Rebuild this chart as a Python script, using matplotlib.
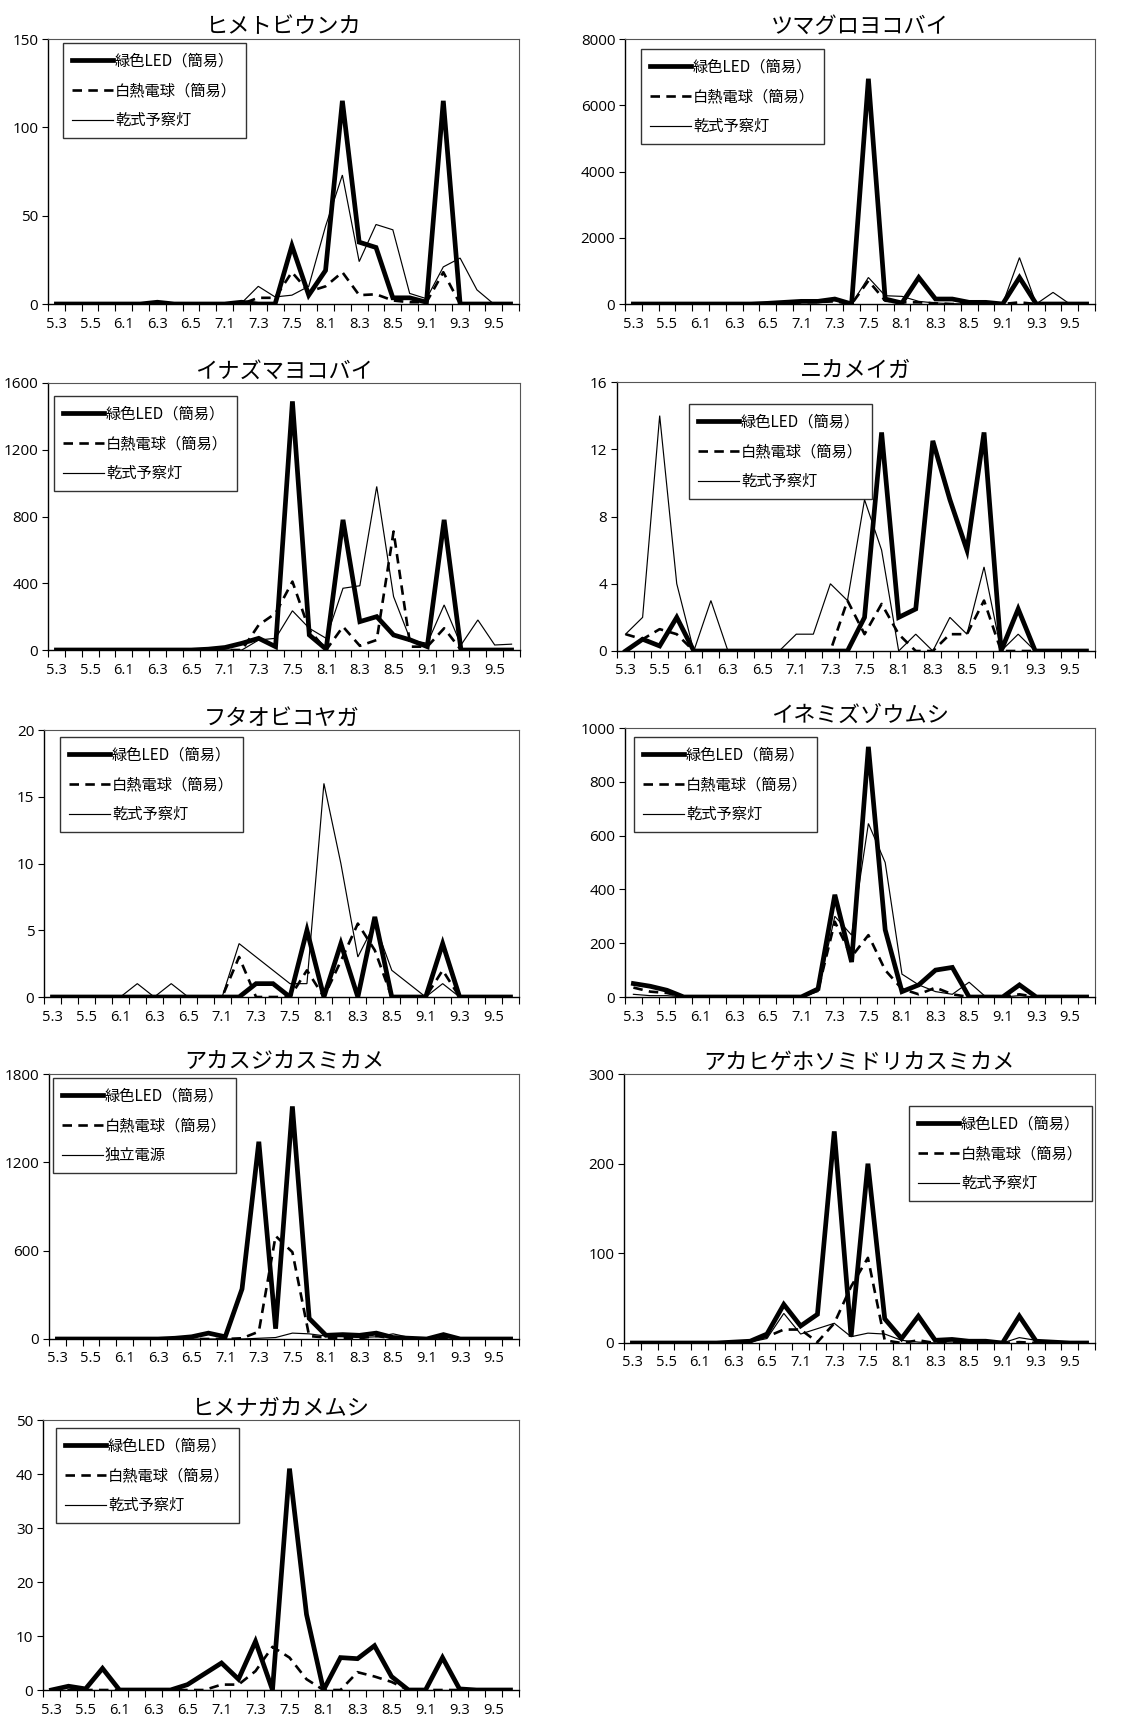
import matplotlib
matplotlib.use("Agg")
import matplotlib.pyplot as plt
import numpy as np

plt.rcParams['font.family'] = ['Noto Sans CJK JP', 'DejaVu Sans']

periods = ["5.3", "5.4", "5.5", "5.6",
           "6.1", "6.2", "6.3", "6.4", "6.5", "6.6",
           "7.1", "7.2", "7.3", "7.4", "7.5", "7.6",
           "8.1", "8.2", "8.3", "8.4", "8.5", "8.6",
           "9.1", "9.2", "9.3", "9.4", "9.5", "9.6"]

label_led = "緑色LED（簡易）"
label_inc = "白熱電球（簡易）"
label_dry = "乾式予察灯"
label_ind = "独立電源"

# --- ヒメトビウンカ ---
himetobi_led = [0, 0, 0, 0, 0, 0, 1, 0, 0, 0, 0, 1, 0, 0, 33, 5, 19, 115, 35, 32, 3.5, 3.5, 1, 115, 0, 0, 0, 0]
himetobi_inc = [0, 0, 0, 0, 0, 0, 0, 0, 0, 0, 0, 0, 3.5, 3.5, 18, 7, 10, 18, 5, 5.5, 2, 1, 1, 18, 0, 0, 0, 0]
himetobi_dry = [0, 0, 0, 0, 0, 0, 0, 0, 0, 0, 0, 0.5, 10, 4, 5, 10, 44, 73, 24, 45, 42, 6, 3, 21, 26, 8, 0, 0]

# --- ツマグロヨコバイ ---
tsumaguro_led = [0, 0, 0, 0, 0, 0, 0, 0, 20, 50, 80, 80, 150, 0, 6800, 150, 30, 800, 150, 150, 50, 50, 0, 800, 0, 0, 0, 0]
tsumaguro_inc = [0, 0, 0, 0, 0, 0, 0, 0, 10, 30, 50, 60, 80, 0, 700, 100, 50, 50, 20, 0, 0, 0, 0, 50, 0, 0, 0, 0]
tsumaguro_dry = [0, 0, 0, 0, 0, 0, 0, 0, 10, 40, 80, 120, 100, 0, 800, 250, 230, 80, 30, 10, 0, 0, 0, 1400, 0, 350, 0, 0]

# --- イナズマヨコバイ ---
inazuma_led = [0, 0, 0, 0, 0, 0, 0, 0, 0, 5, 15, 40, 70, 20, 1490, 90, 5, 780, 170, 200, 90, 60, 20, 780, 0, 0, 0, 0]
inazuma_inc = [0, 0, 0, 0, 0, 0, 0, 0, 0, 0, 0, 0, 150, 220, 410, 120, 0, 140, 25, 60, 710, 20, 20, 130, 0, 0, 0, 0]
inazuma_dry = [0, 0, 0, 0, 0, 0, 0, 0, 0, 0, 0, 0, 60, 70, 235, 130, 70, 370, 385, 980, 320, 60, 40, 270, 30, 180, 30, 35]

# --- ニカメイガ ---
nikameiga_led = [0, 0.7, 0.3, 2, 0, 0, 0, 0, 0, 0, 0, 0, 0, 0, 2, 13, 2, 2.5, 12.5, 9, 6, 13, 0, 2.5, 0, 0, 0, 0]
nikameiga_inc = [1, 0.7, 1.3, 1, 0, 0, 0, 0, 0, 0, 0, 0, 0, 3, 1, 2.8, 1, 0, 0, 1, 1, 3, 0, 0, 0, 0, 0, 0]
nikameiga_dry = [1, 2, 14, 4, 0, 3, 0, 0, 0, 0, 1, 1, 4, 3, 9, 6, 0, 1, 0, 2, 1, 5, 0, 1, 0, 0, 0, 0]

# --- フタオビコヤガ ---
futaobi_led = [0, 0, 0, 0, 0, 0, 0, 0, 0, 0, 0, 0, 1, 1, 0, 5, 0, 4, 0, 6, 0, 0, 0, 4, 0, 0, 0, 0]
futaobi_inc = [0, 0, 0, 0, 0, 0, 0, 0, 0, 0, 0, 3, 0, 0, 0, 2, 0, 2.7, 5.5, 3.5, 0, 0, 0, 2, 0, 0, 0, 0]
futaobi_dry = [0, 0, 0, 0, 0, 1, 0, 1, 0, 0, 0, 4, 3, 2, 1, 1, 16, 10, 3, 5.5, 2, 1, 0, 1, 0, 0, 0, 0]

# --- イネミズゾウムシ ---
inemizu_led = [50, 40, 25, 0, 0, 0, 0, 0, 0, 0, 0, 30, 380, 130, 930, 250, 20, 45, 100, 110, 0, 0, 0, 45, 0, 0, 0, 0]
inemizu_inc = [35, 20, 15, 0, 0, 0, 0, 0, 0, 0, 0, 25, 280, 150, 230, 100, 30, 10, 35, 10, 0, 0, 0, 10, 0, 0, 0, 0]
inemizu_dry = [10, 5, 5, 0, 0, 0, 0, 0, 0, 0, 0, 20, 300, 230, 645, 500, 85, 45, 20, 10, 55, 0, 0, 5, 0, 0, 0, 0]

# --- アカスジカスミカメ ---
akasuji_led = [0, 0, 0, 0, 0, 0, 0, 5, 15, 40, 15, 340, 1340, 70, 1580, 140, 25, 30, 25, 40, 10, 5, 0, 30, 0, 0, 0, 0]
akasuji_inc = [0, 0, 0, 0, 0, 0, 0, 0, 0, 0, 0, 5, 50, 700, 590, 20, 10, 5, 5, 20, 5, 0, 0, 5, 0, 0, 0, 0]
akasuji_ind = [0, 0, 0, 0, 0, 0, 0, 0, 0, 0, 0, 0, 5, 10, 40, 35, 20, 15, 10, 15, 35, 10, 5, 0, 0, 0, 0, 0]

# --- アカヒゲホソミドリカスミカメ ---
akahige_led = [0, 0, 0, 0, 0, 0, 1, 2, 10, 43, 19, 32, 236, 7, 200, 27, 5, 30, 3, 4, 2, 2, 0, 30, 2, 1, 0, 0]
akahige_inc = [0, 0, 0, 0, 0, 0, 1, 2, 7, 15, 15, 1, 22, 63, 95, 3, 0, 3, 0, 0, 0, 0, 0, 1, 0, 0, 0, 0]
akahige_dry = [0, 0, 0, 0, 0, 0, 0, 1, 5, 33, 10, 16, 22, 7, 11, 10, 3, 1, 0, 0, 0, 0, 0, 6, 3, 0, 0, 0]

# --- ヒメナガカメムシ ---
himenaga_led = [0, 0.7, 0.2, 4, 0, 0, 0, 0, 1, 3, 5, 2, 9, 0, 41, 14, 0, 6, 5.8, 8.2, 2.5, 0, 0, 6, 0.2, 0, 0, 0]
himenaga_inc = [0, 0, 0, 0, 0, 0, 0, 0, 0, 0, 1, 1, 3.5, 8, 6, 2, 0, 0, 3.3, 2.5, 1.5, 0, 0, 0, 0, 0, 0, 0]
himenaga_dry = [0] * 28

panels = [
    dict(title="ヒメトビウンカ", series=[himetobi_led, himetobi_inc, himetobi_dry],
         labels=[label_led, label_inc, label_dry], ymax=150, yticks=[0, 50, 100, 150],
         box=(48, 519, 39, 304), leg=(63, 43)),
    dict(title="ツマグロヨコバイ", series=[tsumaguro_led, tsumaguro_inc, tsumaguro_dry],
         labels=[label_led, label_inc, label_dry], ymax=8000, yticks=[0, 2000, 4000, 6000, 8000],
         box=(625, 1095, 39, 304), leg=(641, 49)),
    dict(title="イナズマヨコバイ", series=[inazuma_led, inazuma_inc, inazuma_dry],
         labels=[label_led, label_inc, label_dry], ymax=1600, yticks=[0, 400, 800, 1200, 1600],
         box=(48, 520, 383, 650), leg=(54, 396)),
    dict(title="ニカメイガ", series=[nikameiga_led, nikameiga_inc, nikameiga_dry],
         labels=[label_led, label_inc, label_dry], ymax=16, yticks=[0, 4, 8, 12, 16],
         box=(617, 1095, 382, 651), leg=(689, 404)),
    dict(title="フタオビコヤガ", series=[futaobi_led, futaobi_inc, futaobi_dry],
         labels=[label_led, label_inc, label_dry], ymax=20, yticks=[0, 5, 10, 15, 20],
         box=(44, 519, 730, 997), leg=(60, 737)),
    dict(title="イネミズゾウムシ", series=[inemizu_led, inemizu_inc, inemizu_dry],
         labels=[label_led, label_inc, label_dry], ymax=1000, yticks=[0, 200, 400, 600, 800, 1000],
         box=(625, 1095, 728, 997), leg=(634, 737)),
    dict(title="アカスジカスミカメ", series=[akasuji_led, akasuji_inc, akasuji_ind],
         labels=[label_led, label_inc, label_ind], ymax=1800, yticks=[0, 600, 1200, 1800],
         box=(49, 519, 1074, 1339), leg=(53, 1078)),
    dict(title="アカヒゲホソミドリカスミカメ", series=[akahige_led, akahige_inc, akahige_dry],
         labels=[label_led, label_inc, label_dry], ymax=300, yticks=[0, 100, 200, 300],
         box=(624, 1095, 1074, 1343), leg=(909, 1106)),
    dict(title="ヒメナガカメムシ", series=[himenaga_led, himenaga_inc, himenaga_dry],
         labels=[label_led, label_inc, label_dry], ymax=50, yticks=[0, 10, 20, 30, 40, 50],
         box=(43, 519, 1420, 1690), leg=(56, 1428)),
]

W, H = 1148, 1720
fig = plt.figure(figsize=(W / 100, H / 100), dpi=100)
fig.patch.set_facecolor("white")

styles = [dict(lw=3.4, ls="-"), dict(lw=1.9, ls=(0, (3.6, 2.4))), dict(lw=0.85, ls="-")]
x = np.arange(len(periods))
tick_font = ['Open Sans', 'Noto Sans CJK JP']

for p in panels:
    l, r, t, b = p["box"]
    ax = fig.add_axes([l / W, 1 - b / H, (r - l) / W, (b - t) / H])
    order = [2, 1, 0]
    handles = {}
    for k in order:
        st = styles[k]
        line, = ax.plot(x, p["series"][k], color="black", linewidth=st["lw"],
                        linestyle=st["ls"], solid_joinstyle="miter", label=p["labels"][k],
                        zorder=3 + (2 - k))
        handles[k] = line
    ax.set_xlim(-0.5, len(periods) - 0.5)
    ax.set_ylim(0, p["ymax"])
    ax.set_yticks(p["yticks"])
    ax.set_yticklabels([str(v) for v in p["yticks"]], family=tick_font, fontsize=11)
    ax.set_xticks(x[::2])
    ax.set_xticklabels(periods[::2], family=tick_font, fontsize=10.5)
    ax.set_xticks(np.arange(-0.5, len(periods) + 0.5, 1.0), minor=True)
    ax.tick_params(axis="x", which="major", length=0, pad=9)
    ax.tick_params(axis="x", which="minor", length=5, width=0.8, direction="out")
    ax.tick_params(axis="y", which="major", length=4, width=0.8, direction="out", pad=3)
    for s in ["left", "bottom"]:
        ax.spines[s].set_color("black")
        ax.spines[s].set_linewidth(1.0)
    for s in ["top", "right"]:
        ax.spines[s].set_color("#555555")
        ax.spines[s].set_linewidth(0.8)
    ax.set_title(p["title"], fontsize=16, pad=4, family=['Noto Sans CJK JP', 'DejaVu Sans'])
    lx, ly = p["leg"]
    leg = ax.legend([handles[0], handles[1], handles[2]], p["labels"],
                    loc="upper left", bbox_to_anchor=(lx / W, 1 - ly / H),
                    bbox_transform=fig.transFigure, fontsize=11, frameon=True,
                    fancybox=False, edgecolor="black", handlelength=2.7,
                    handletextpad=0.1, labelspacing=0.85, borderpad=0.6,
                    borderaxespad=0.0)
    leg.get_frame().set_linewidth(1.0)
    leg.set_zorder(10)

fig.savefig("out.png", dpi=100, facecolor="white")
